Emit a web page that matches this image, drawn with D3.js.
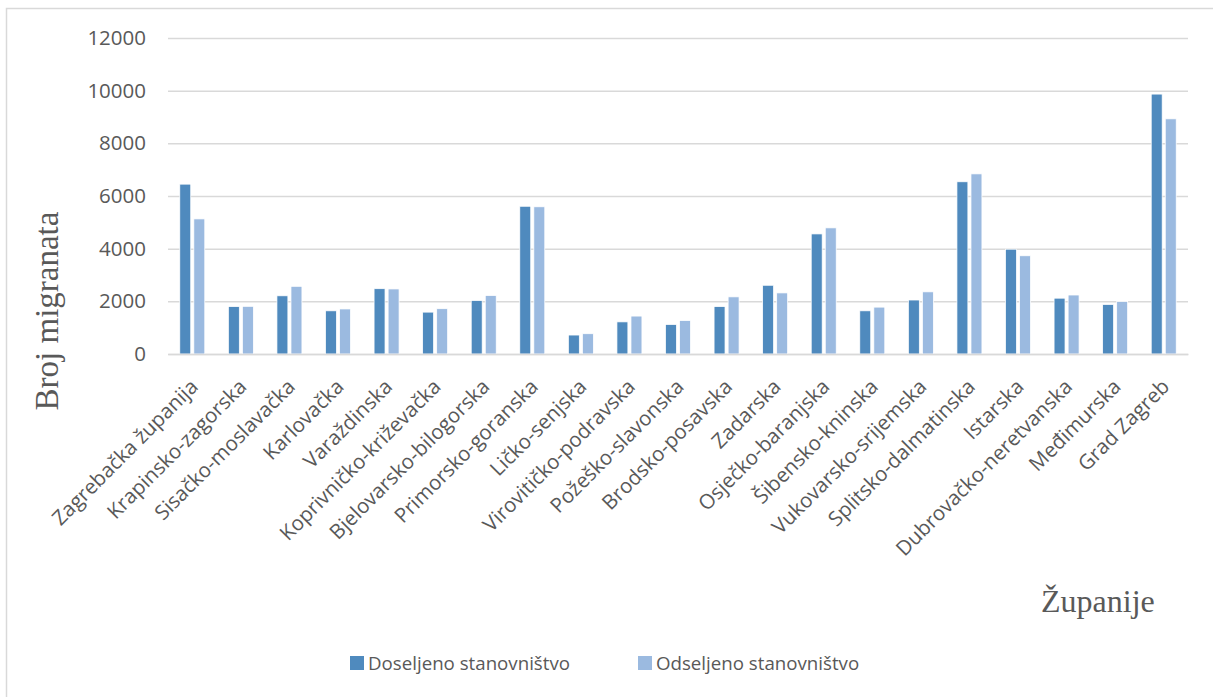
<!DOCTYPE html>
<html>
<head>
<meta charset="utf-8">
<script src="https://cdn.jsdelivr.net/npm/d3@7"></script>
<style>
  html, body { margin: 0; padding: 0; background: #fff; }
  svg { display: block; }
</style>
</head>
<body>
<svg id="chart" width="1213" height="697"></svg>
<script>
// Doseljeno / odseljeno stanovništvo po županijama

const counties = [
  "Zagrebačka županija", "Krapinsko-zagorska", "Sisačko-moslavačka", "Karlovačka",
  "Varaždinska", "Koprivničko-križevačka", "Bjelovarsko-bilogorska", "Primorsko-goranska",
  "Ličko-senjska", "Virovitičko-podravska", "Požeško-slavonska", "Brodsko-posavska",
  "Zadarska", "Osječko-baranjska", "Šibensko-kninska", "Vukovarsko-srijemska",
  "Splitsko-dalmatinska", "Istarska", "Dubrovačko-neretvanska", "Međimurska", "Grad Zagreb"
];

const doseljeno = [6450, 1800, 2210, 1640, 2480, 1590, 2030, 5610,
  720, 1220, 1120, 1800, 2610, 4560, 1640, 2050, 6540, 3980, 2120, 1880, 9870];

const odseljeno = [5130, 1810, 2570, 1710, 2470, 1720, 2220, 5590,
  770, 1440, 1270, 2170, 2320, 4790, 1780, 2360, 6840, 3730, 2240, 1990, 8930];

const seriesNames = ["Doseljeno stanovništvo", "Odseljeno stanovništvo"];
const seriesColors = ["#4f8abe", "#9bbae0"];
const yTicks = [0, 2000, 4000, 6000, 8000, 10000, 12000];

const svg = d3.select("#chart");
const textColor = "#595959";
const sans = "'Open Sans', sans-serif";
const serif = "'Liberation Serif', 'Times New Roman', serif";

// chart frame
svg.append("rect")
  .attr("x", 6.5).attr("y", 8.5)
  .attr("width", 1220).attr("height", 700)
  .attr("fill", "none")
  .attr("stroke", "#d9d9d9")
  .attr("stroke-width", 1.5);

const x = d3.scaleBand()
  .domain(counties)
  .range([168, 1188]);

const xs = d3.scaleBand()
  .domain(seriesNames)
  .range([-12.5, 12.5])
  .paddingInner(0.22);

const y = d3.scaleLinear()
  .domain([0, 12000])
  .range([354, 38]);

// gridlines + y labels
const yAxis = svg.append("g")
  .attr("transform", "translate(168,0)")
  .call(d3.axisLeft(y).tickValues(yTicks).tickSize(-1020).tickPadding(22).tickFormat(d3.format("d")));
yAxis.select(".domain").remove();
yAxis.selectAll(".tick line").attr("stroke", "#d9d9d9").attr("stroke-width", 1.5);
yAxis.selectAll(".tick text")
  .attr("fill", textColor)
  .style("font-family", sans)
  .style("font-size", "20.5px");

// bars
const table = counties.map((c, i) => ({ county: c, values: [doseljeno[i], odseljeno[i]] }));

const groups = svg.append("g").selectAll("g")
  .data(table)
  .join("g")
  .attr("transform", d => `translate(${x(d.county) + x.bandwidth() / 2},0)`);

groups.selectAll("rect")
  .data(d => d.values.map((v, k) => ({ key: seriesNames[k], value: v, k })))
  .join("rect")
  .attr("x", d => xs(d.key))
  .attr("width", xs.bandwidth())
  .attr("y", d => y(d.value))
  .attr("height", d => y(0) - y(d.value))
  .attr("fill", d => seriesColors[d.k])
  .attr("stroke", "#fff")
  .attr("stroke-width", 0.75);

// category axis
const xAxis = svg.append("g")
  .attr("transform", "translate(0,354)")
  .call(d3.axisBottom(x).tickSize(0).tickPadding(0));
xAxis.select(".domain").attr("stroke", "#d9d9d9").attr("stroke-width", 1.5);
xAxis.selectAll(".tick text")
  .attr("fill", textColor)
  .style("font-family", sans)
  .style("font-size", "20.5px")
  .attr("text-anchor", "end")
  .attr("dy", null)
  .attr("transform", "translate(7,34) rotate(-45)");

// axis titles
svg.append("text")
  .attr("transform", "translate(58,311) rotate(-90)")
  .attr("text-anchor", "middle")
  .attr("fill", textColor)
  .style("font-family", serif)
  .style("font-size", "33px")
  .text("Broj migranata");

svg.append("text")
  .attr("x", 1041).attr("y", 612)
  .attr("fill", textColor)
  .style("font-family", serif)
  .style("font-size", "32px")
  .text("Županije");

// legend
const legendX = [350, 638];
const legend = svg.append("g").selectAll("g")
  .data(seriesNames)
  .join("g")
  .attr("transform", (d, i) => `translate(${legendX[i]},663)`);
legend.append("rect")
  .attr("x", 0).attr("y", -7)
  .attr("width", 14).attr("height", 14)
  .attr("fill", (d, i) => seriesColors[i]);
legend.append("text")
  .attr("x", 18).attr("y", 0)
  .attr("dy", "0.35em")
  .attr("fill", textColor)
  .style("font-family", sans)
  .style("font-size", "18.7px")
  .text(d => d);
</script>
</body>
</html>
